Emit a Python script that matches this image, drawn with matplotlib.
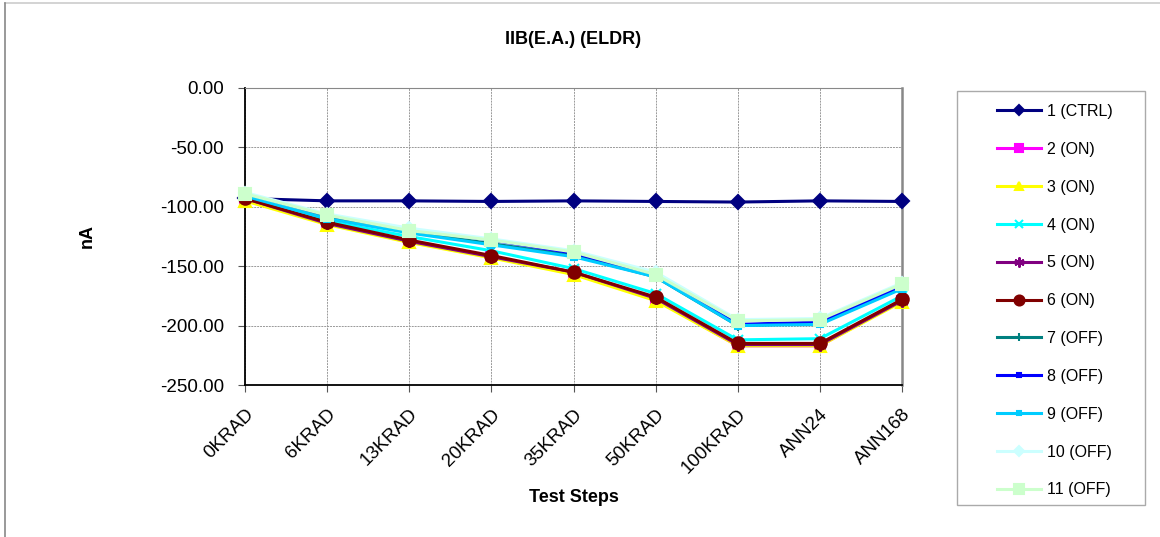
import matplotlib
matplotlib.use("Agg")
import matplotlib.pyplot as plt
from matplotlib.lines import Line2D
from matplotlib.patches import Rectangle

plt.rcParams['font.family'] = ['Liberation Sans', 'DejaVu Sans']

steps = ['0KRAD', '6KRAD', '13KRAD', '20KRAD', '35KRAD', '50KRAD', '100KRAD', 'ANN24', 'ANN168']

# IIB values per device, nA
s1 = [-93, -95, -95, -95.5, -95, -95.5, -96, -95, -95.5]
s2 = [-94, -114, -129, -142, -156, -178, -217, -217, -179]
s3 = [-95, -115, -130, -143, -157, -179, -217, -217, -180]
s4 = [-92, -112, -125, -137, -152, -173, -212, -211, -175]
s5 = [-93, -114, -129, -142, -155, -177, -216, -216, -179]
s6 = [-93, -113, -128, -141, -155, -176, -215, -215, -178]
s7 = [-90, -109, -121, -131, -141, -159, -200, -198, -168]
s8 = [-89, -107, -119, -128, -139, -157, -199, -197, -167]
s9 = [-91, -110, -122, -132, -142, -159, -200, -199, -169]
s10 = [-88, -106, -118, -127, -137, -155, -195, -194, -164]
s11 = [-89, -107, -120, -128, -138, -157, -196, -195, -165]

names = ['1 (CTRL)', '2 (ON)', '3 (ON)', '4 (ON)', '5 (ON)', '6 (ON)',
         '7 (OFF)', '8 (OFF)', '9 (OFF)', '10 (OFF)', '11 (OFF)']
series = [s1, s2, s3, s4, s5, s6, s7, s8, s9, s10, s11]

styles = [
    ('#000080', 'D', 7),
    ('#ff00ff', 's', 7),
    ('#ffff00', '^', 8),
    ('#00ffff', 'x', 7),
    ('#800080', (6, 2, 0), 9),
    ('#800000', 'o', 9),
    ('#008080', '+', 7),
    ('#0000ff', 's', 3),
    ('#00ccff', 's', 4),
    ('#ccffff', 'D', 6),
    ('#ccffcc', 's', 9),
]

fig = plt.figure(figsize=(11.6, 5.37), dpi=100)
ax = fig.add_axes([245 / 1160, 1 - 385 / 537, 657 / 1160, 297 / 537])

x = list(range(len(steps)))
handles = []
for vals, name, (col, mk, ms) in zip(series, names, styles):
    ln, = ax.plot(x, vals, color=col, marker=mk, markersize=ms, linewidth=2.2,
                  markeredgewidth=1.5, label=name, clip_on=False, zorder=3)
    handles.append(ln)

ax.set_xlim(0, len(steps) - 1)
ax.set_ylim(-250, 0)
ax.set_yticks([0, -50, -100, -150, -200, -250])
ax.set_yticklabels(['%.2f' % v for v in [0, -50, -100, -150, -200, -250]])
ax.set_xticks(x)
ax.set_xticklabels(steps, rotation=45, ha='right', rotation_mode='anchor')
ax.tick_params(axis='both', labelsize=13.5, length=5, direction='out', color='#555555')
ax.tick_params(axis='x', pad=10)
ax.tick_params(axis='y', pad=10)

ax.grid(True, color='#999999', linestyle=(0, (2, 1)), linewidth=0.7)
ax.set_axisbelow(True)
ax.spines['left'].set_color('black')
ax.spines['left'].set_linewidth(1.3)
ax.spines['bottom'].set_color('black')
ax.spines['bottom'].set_linewidth(1.3)
ax.spines['top'].set_color('#888888')
ax.spines['right'].set_color('#888888')
ax.spines['right'].set_linewidth(1.8)

ax.set_title('IIB(E.A.) (ELDR)', fontsize=13, fontweight='bold', pad=32)
ax.set_xlabel('Test Steps', fontsize=13, fontweight='bold', labelpad=9)
ax.set_ylabel('nA', fontsize=13, fontweight='bold', labelpad=46)

# legend box drawn separately, entries placed inside it
fig.add_artist(Rectangle((957 / 1160, 1 - 505 / 537), 188 / 1160, 414 / 537,
                         transform=fig.transFigure, facecolor='white',
                         edgecolor='#aaaaaa', linewidth=1.0, zorder=1))
leg = fig.legend(handles=handles, loc='upper left', bbox_to_anchor=(997 / 1160, 1 - 104 / 537),
                 frameon=False, fontsize=11.5, handlelength=2.75, markerscale=0.8,
                 labelspacing=1.43, borderpad=0, handletextpad=0.4, borderaxespad=0)
leg.set_zorder(2)

# outer chart border (top and left visible)
fig.add_artist(Line2D([5 / 1160, 1], [1 - 3 / 537, 1 - 3 / 537], color='#cccccc', linewidth=1.2))
fig.add_artist(Line2D([5 / 1160, 5 / 1160], [0, 1 - 3 / 537], color='#888888', linewidth=1.2))

fig.savefig('out.png', dpi=100)
